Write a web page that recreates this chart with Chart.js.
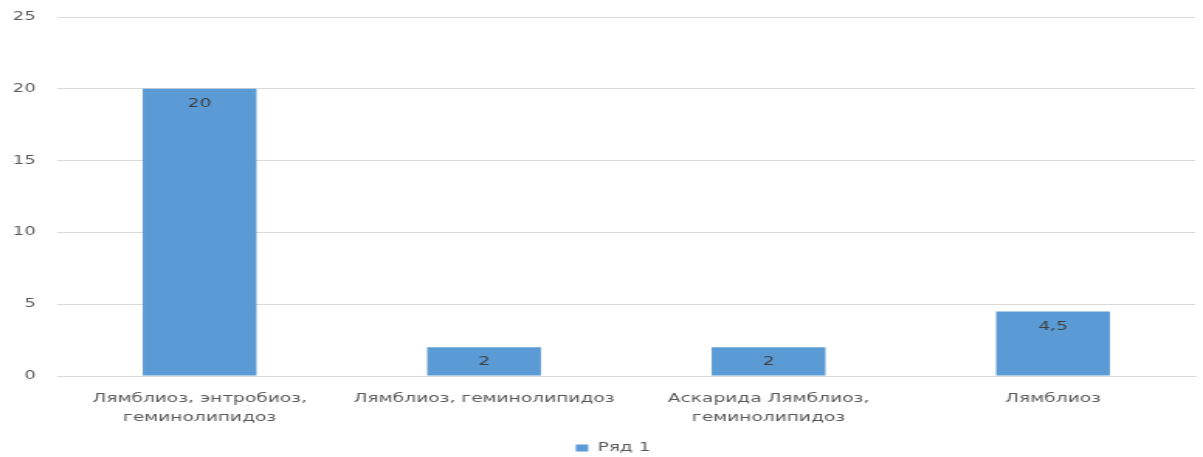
<!DOCTYPE html>
<html><head><meta charset="utf-8">
<script src="https://cdn.jsdelivr.net/npm/chart.js@4/dist/chart.umd.min.js"></script>
<style>html,body{margin:0;padding:0;background:#fff;overflow:hidden}#wrap{width:1203px;height:457px}#c{width:1203px;height:457px;display:block}</style>
</head><body><div id="wrap"><canvas id="c" width="776" height="457" style="width:1203px;height:457px"></canvas></div>
<script>
const categories = [["Лямблиоз, энтробиоз,", "геминолипидоз"], "Лямблиоз, геминолипидоз", ["Аскарида Лямблиоз,", "геминолипидоз"], "Лямблиоз"];
const seriesName = "Ряд 1";
const values = [20, 2, 2, 4.5];
const yTicks = [0, 5, 10, 15, 20, 25];

const labelPlugin = {
  id: 'barLabels',
  afterLayout(chart) {
    if (chart.legend) { chart.legend.left += 10; chart.legend.right += 10; }
  },
  afterDatasetsDraw(chart) {
    const ctx = chart.ctx;
    const meta = chart.getDatasetMeta(0);
    ctx.save();
    ctx.font = '12px "DejaVu Sans"';
    ctx.fillStyle = '#404040';
    ctx.textAlign = 'center';
    ctx.textBaseline = 'top';
    meta.data.forEach((bar, i) => {
      ctx.fillText(String(values[i]).replace('.', ','), bar.x, bar.y + 9);
    });
    ctx.restore();
  }
};

new Chart(document.getElementById('c'), {
  type: 'bar',
  data: {
    labels: categories,
    datasets: [{
      label: seriesName,
      data: values,
      backgroundColor: '#5b9bd5',
      borderWidth: 0,
      barPercentage: 0.4,
      categoryPercentage: 1.0
    }]
  },
  options: {
    responsive: false,
    animation: false,
    devicePixelRatio: 1,
    layout: { padding: { left: 0, right: 5, top: 17, bottom: -7 } },
    scales: {
      y: {
        min: 0, max: 25,
        afterBuildTicks(scale) { scale.ticks = yTicks.map(v => ({ value: v })); },
        afterFit(scale) { scale.width = 37; scale.paddingTop = 0; scale.paddingBottom = 0; },
        grid: { color: '#d9d9d9', drawTicks: false },
        border: { display: false },
        ticks: { color: '#595959', font: { family: 'DejaVu Sans', size: 11.5 }, padding: 14 }
      },
      x: {
        afterFit(scale) { scale.height = 65; },
        grid: { display: false, drawTicks: false },
        border: { color: '#d9d9d9' },
        ticks: { color: '#595959', font: { family: 'DejaVu Sans', size: 12, lineHeight: 1.6 }, padding: 13, maxRotation: 0, autoSkip: false }
      }
    },
    plugins: {
      legend: {
        position: 'bottom',
        labels: { boxWidth: 8, boxHeight: 7, color: '#595959', font: { family: 'DejaVu Sans', size: 12 }, padding: 1 }
      },
      tooltip: { enabled: false }
    }
  },
  plugins: [labelPlugin]
});
</script></body></html>
